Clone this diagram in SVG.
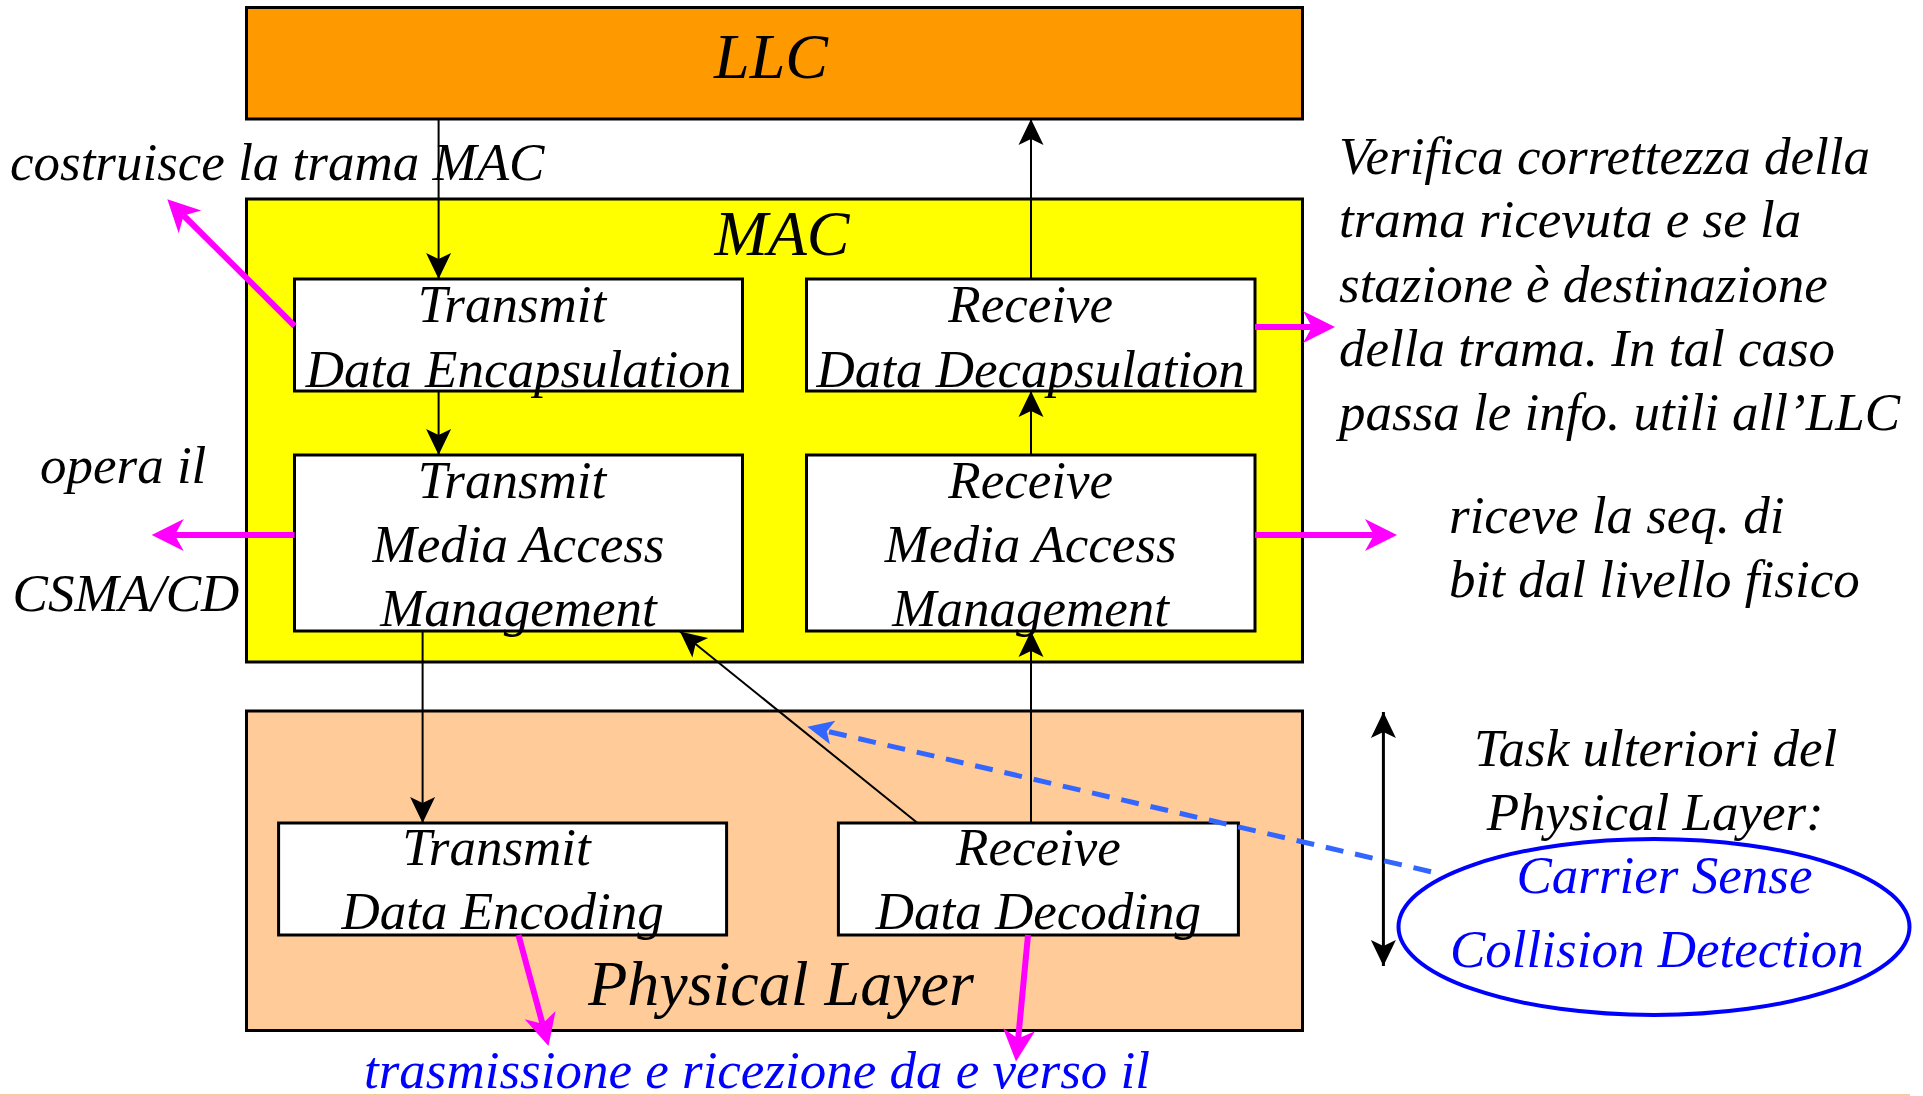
<svg xmlns="http://www.w3.org/2000/svg" width="1923" height="1096" viewBox="0 0 1923 1096">
<style>
text{font-family:"Liberation Serif","Times New Roman",serif;font-style:italic;font-size:53px;fill:#000}
.big{font-size:64px}
.mid{text-anchor:middle}
.blue{fill:#0000FF}
.layer{stroke:#000;stroke-width:3}
.box{fill:#fff;stroke:#000;stroke-width:3}
.conn{stroke:#000;stroke-width:2;fill:none}
.mag{stroke:#FF00FF;stroke-width:6;fill:none}
</style>
<defs>
<marker id="ahb" markerUnits="userSpaceOnUse" markerWidth="28" markerHeight="27" refX="26" refY="12.5" orient="auto-start-reverse" overflow="visible">
<path d="M0,0 L26,12.5 L0,25 L6,12.5 z" fill="#000"/>
</marker>
<marker id="ahm" markerUnits="userSpaceOnUse" markerWidth="33" markerHeight="33" refX="9" refY="16" orient="auto" overflow="visible">
<path d="M0,0 L32,16 L0,32 L9,16 z" fill="#FF00FF"/>
</marker>
<marker id="ahblue" markerUnits="userSpaceOnUse" markerWidth="27" markerHeight="25" refX="6" refY="12" orient="auto" overflow="visible">
<path d="M0,0 L26,12 L0,24 L6,12 z" fill="#3366FF"/>
</marker>
</defs>
<rect width="1923" height="1096" fill="#fff"/>
<rect x="0" y="1094" width="1910" height="2" fill="#F6CCA0"/>

<g id="llc">
<rect class="layer" x="246.5" y="7.5" width="1056" height="111.5" fill="#FF9900"/>
<text class="big mid" x="771" y="78">LLC</text>
</g>
<g id="mac">
<rect class="layer" x="246.5" y="199" width="1056" height="463" fill="#FFFF00"/>
<text class="big mid" x="782" y="255">MAC</text>
</g>
<g id="phy">
<rect class="layer" x="246.5" y="711" width="1056" height="319.5" fill="#FFCC99"/>
<text class="big mid" x="781" y="1005">Physical Layer</text>
</g>
<g id="tx-encap">
<rect class="box" x="294.5" y="279" width="448" height="112"/>
<text class="mid" x="512" y="322">Transmit</text>
<text class="mid" x="518.5" y="387">Data Encapsulation</text>
</g>
<g id="rx-decap">
<rect class="box" x="806.5" y="279" width="448.5" height="112"/>
<text class="mid" x="1030.7" y="322">Receive</text>
<text class="mid" x="1030.7" y="387">Data Decapsulation</text>
</g>
<g id="tx-mam">
<rect class="box" x="294.5" y="455" width="448" height="176"/>
<text class="mid" x="512" y="498">Transmit</text>
<text class="mid" x="518.5" y="562">Media Access</text>
<text class="mid" x="518.5" y="626">Management</text>
</g>
<g id="rx-mam">
<rect class="box" x="806.5" y="455" width="448.5" height="176"/>
<text class="mid" x="1030.7" y="498">Receive</text>
<text class="mid" x="1030.7" y="562">Media Access</text>
<text class="mid" x="1030.7" y="626">Management</text>
</g>
<g id="tx-enc">
<rect class="box" x="278.6" y="823" width="448" height="112"/>
<text class="mid" x="496.5" y="865">Transmit</text>
<text class="mid" x="502.6" y="929">Data Encoding</text>
</g>
<g id="rx-dec">
<rect class="box" x="838.4" y="823" width="400" height="112"/>
<text class="mid" x="1038.4" y="865">Receive</text>
<text class="mid" x="1038.4" y="929">Data Decoding</text>
</g>

<g id="notes">
<text x="10" y="180">costruisce la trama MAC</text>
<text x="40" y="483">opera il</text>
<text x="12.6" y="611">CSMA/CD</text>
<text x="1339" y="174">Verifica correttezza della</text>
<text x="1339" y="237">trama ricevuta e se la</text>
<text x="1339" y="302">stazione è destinazione</text>
<text x="1339" y="366">della trama. In tal caso</text>
<text x="1339" y="430">passa le info. utili all’LLC</text>
<text x="1449" y="533">riceve la seq. di</text>
<text x="1449" y="597">bit dal livello fisico</text>
<text x="1474" y="766">Task ulteriori del</text>
<text x="1486.7" y="830">Physical Layer:</text>
<text class="blue" x="364" y="1088">trasmissione e ricezione da e verso il</text>
</g>
<g id="cscd">
<ellipse cx="1654" cy="927" rx="255.5" ry="88" fill="none" stroke="#0000FF" stroke-width="4"/>
<text class="blue" x="1516.5" y="893">Carrier Sense</text>
<text class="blue" x="1450" y="967">Collision Detection</text>
</g>

<g id="connectors">
<line class="conn" x1="438.6" y1="119" x2="438.6" y2="279" marker-end="url(#ahb)"/>
<line class="conn" x1="438.6" y1="391" x2="438.6" y2="455" marker-end="url(#ahb)"/>
<line class="conn" x1="422.6" y1="631" x2="422.6" y2="823" marker-end="url(#ahb)"/>
<line class="conn" x1="1031" y1="823" x2="1031" y2="631" marker-end="url(#ahb)"/>
<line class="conn" x1="1031" y1="455" x2="1031" y2="391" marker-end="url(#ahb)"/>
<line class="conn" x1="1031" y1="279" x2="1031" y2="119" marker-end="url(#ahb)"/>
<line class="conn" x1="917.5" y1="823" x2="680" y2="631.5" marker-end="url(#ahb)"/>
<line class="conn" style="stroke-width:3" x1="1383.4" y1="712" x2="1383.4" y2="966" marker-start="url(#ahb)" marker-end="url(#ahb)"/>
<line class="mag" x1="294.5" y1="535" x2="174.7" y2="535" marker-end="url(#ahm)"/>
<line class="mag" x1="294.6" y1="326" x2="183.6" y2="215.5" marker-end="url(#ahm)"/>
<line class="mag" x1="1255" y1="327" x2="1312" y2="327" marker-end="url(#ahm)"/>
<line class="mag" x1="1255" y1="535" x2="1374" y2="535" marker-end="url(#ahm)"/>
<line class="mag" x1="518.5" y1="935" x2="542.5" y2="1023.8" marker-end="url(#ahm)"/>
<line class="mag" x1="1028" y1="935" x2="1018.2" y2="1038.6" marker-end="url(#ahm)"/>
<line x1="1431" y1="871.7" x2="826.8" y2="731.2" stroke="#3366FF" stroke-width="5" stroke-dasharray="18 12" marker-end="url(#ahblue)"/>
</g>
</svg>
